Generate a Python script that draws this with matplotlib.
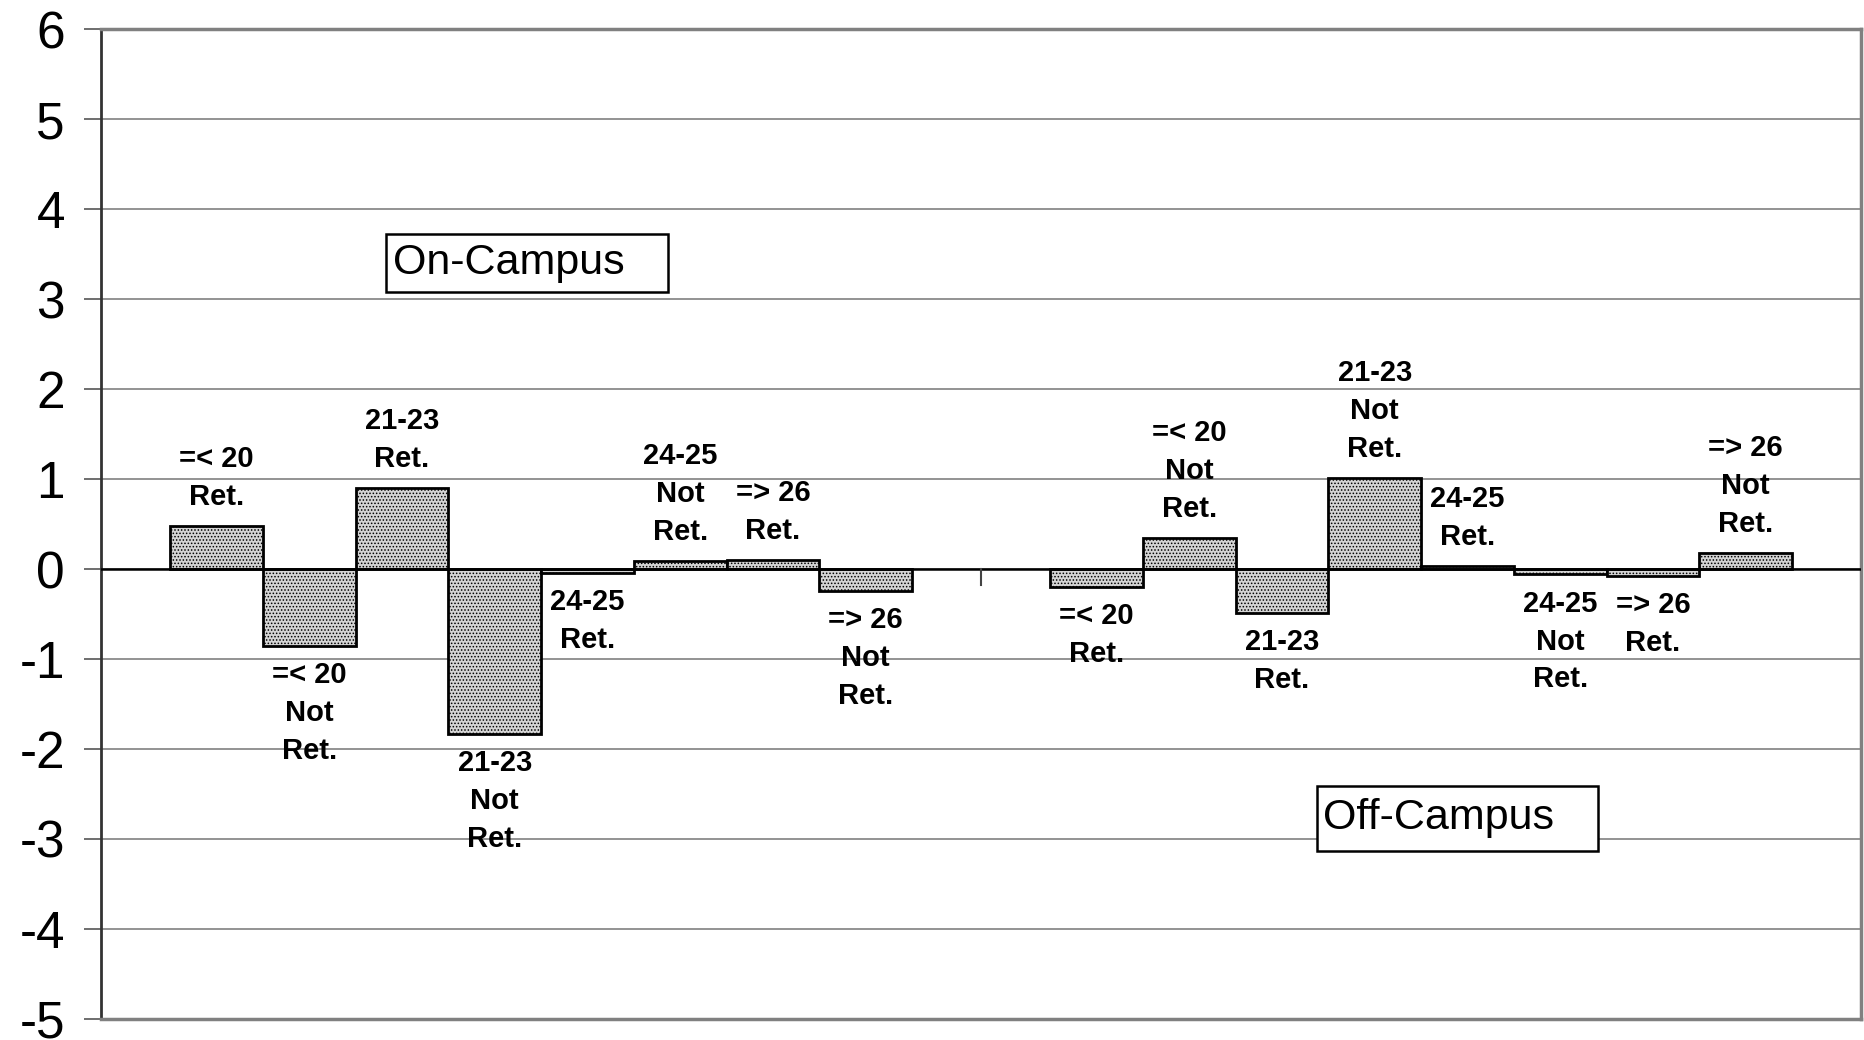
import numpy as np
import matplotlib
matplotlib.use("Agg")
import matplotlib.pyplot as plt
from matplotlib.patches import Rectangle

# data: two groups, eight age/retention series each
groups = ["On-Campus", "Off-Campus"]
series = ["=< 20\nRet.", "=< 20\nNot\nRet.", "21-23\nRet.", "21-23\nNot\nRet.",
          "24-25\nRet.", "24-25\nNot\nRet.", "=> 26\nRet.", "=> 26\nNot\nRet."]
on_campus = [0.48, -0.85, 0.90, -1.83, -0.04, 0.09, 0.10, -0.24]
off_campus = [-0.20, 0.34, -0.49, 1.01, 0.03, -0.06, -0.08, 0.18]
y_ticks = list(range(-5, 7))

plt.rcParams['font.family'] = ['Liberation Sans', 'DejaVu Sans']
plt.rcParams['hatch.color'] = '#3a3a3a'
plt.rcParams['hatch.linewidth'] = 0.7

fig = plt.figure(figsize=(18.65, 10.4), dpi=100)
ax = fig.add_axes([0.0542, 0.0202, 0.9437, 0.9519])

n = len(series)
width = 0.8432 / n  # excel style, 150% gap
values = [on_campus, off_campus]

for g, vals in enumerate(values):
    x = g + (np.arange(n) - (n - 1) / 2) * width
    ax.bar(x, vals, width=width, facecolor='#d4d4d4', edgecolor='black',
           linewidth=2, hatch='.....', zorder=3)
    for xi, v, lab in zip(x, vals, series):
        if v >= 0:
            ax.annotate(lab, (xi, v), xytext=(0, 11), textcoords='offset points',
                        ha='center', va='bottom', fontsize=21, fontweight='bold',
                        linespacing=1.45, zorder=5)
        else:
            ax.annotate(lab, (xi, v), xytext=(0, -11), textcoords='offset points',
                        ha='center', va='top', fontsize=21, fontweight='bold',
                        linespacing=1.45, zorder=5)

ax.set_xlim(-0.5, 1.5)
ax.set_ylim(-5, 6)
ax.set_yticks(y_ticks)
ax.set_yticklabels([str(t) for t in y_ticks], fontsize=37)
ax.tick_params(axis='y', length=12, width=1.2, color='#555555', pad=14)
ax.set_xticks([])
ax.yaxis.grid(True, color='#808080', linewidth=1.2, zorder=0)

# category axis along zero with a tick between groups
ax.axhline(0, color='black', linewidth=1.8, zorder=4)
ax.plot([0.5, 0.5], [0, -0.18], color='#444444', linewidth=1.5, zorder=4)

for side in ['top', 'right', 'bottom']:
    ax.spines[side].set_color('#808080')
    ax.spines[side].set_linewidth(2.5)
ax.spines['left'].set_color('#333333')
ax.spines['left'].set_linewidth(2)

# group name boxes
boxes = [(0.1618, 0.7346, 0.322, 0.7929, 0.166), (0.6907, 0.1697, 0.8506, 0.2357, 0.6945)]
for name, (x0, y0, x1, y1, tx) in zip(groups, boxes):
    ax.add_patch(Rectangle((x0, y0), x1 - x0, y1 - y0, transform=ax.transAxes,
                           facecolor='white', edgecolor='black', linewidth=1.8, zorder=6))
    ax.text(tx, (y0 + y1) / 2, name, transform=ax.transAxes, fontsize=31,
            ha='left', va='center', zorder=7)

fig.savefig('out.png', dpi=100)
